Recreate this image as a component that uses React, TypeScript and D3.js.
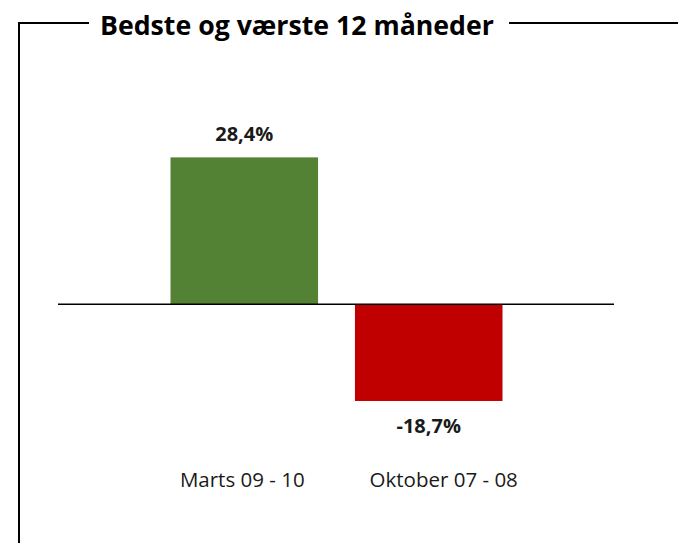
import React from "react";
import * as d3 from "d3";

const title = "Bedste og værste 12 måneder";
const categories = ["Marts 09 - 10", "Oktober 07 - 08"];
const values = [28.4, -18.7];
const valueLabels = ["28,4%", "-18,7%"];
const barColors = ["#548235", "#C00000"];

const W = 678;
const H = 543;
const FONT = "'Open Sans', 'Noto Sans', sans-serif";

export default function App() {
  const x = d3
    .scaleBand<string>()
    .domain(categories)
    .range([170.5, 502.5])
    .paddingInner(0.2)
    .paddingOuter(0);
  const y = d3.scaleLinear().domain([-20, 30]).range([407.7, 149.1]);
  const y0 = y(0);
  const labelDx = [-2, 15];

  return (
    <div style={{ position: "absolute", left: 0, top: 0 }}>
      <svg width={W} height={H} style={{ display: "block", background: "#fff" }}>
        {/* frame */}
        <polyline
          points={`89,23 19,23 19,${H}`}
          fill="none"
          stroke="#000"
          strokeWidth={2}
        />
        <line x1={509} y1={23} x2={W} y2={23} stroke="#000" strokeWidth={2} />
        <text
          x={100}
          y={35}
          fontFamily={FONT}
          fontWeight={700}
          fontSize={26.7}
          fill="#000"
        >
          {title}
        </text>

        {categories.map((c, i) => {
          const v = values[i];
          const top = Math.min(y(v), y0);
          const h = Math.abs(y(v) - y0);
          const cx = (x(c) as number) + x.bandwidth() / 2;
          return (
            <g key={c}>
              <rect
                x={x(c)}
                y={top}
                width={x.bandwidth()}
                height={h}
                fill={barColors[i]}
              />
              <text
                x={cx}
                y={v >= 0 ? y(v) - 16 : y(v) + 32}
                textAnchor="middle"
                fontFamily={FONT}
                fontWeight={700}
                fontSize={20}
                fill="#1a1a1a"
              >
                {valueLabels[i]}
              </text>
              <text
                x={cx + labelDx[i]}
                y={487}
                textAnchor="middle"
                fontFamily={FONT}
                fontSize={20.5}
                fill="#1a1a1a"
              >
                {c}
              </text>
            </g>
          );
        })}

        <line x1={58} y1={y0} x2={614} y2={y0} stroke="#000" strokeWidth={1.5} />
      </svg>
    </div>
  );
}
